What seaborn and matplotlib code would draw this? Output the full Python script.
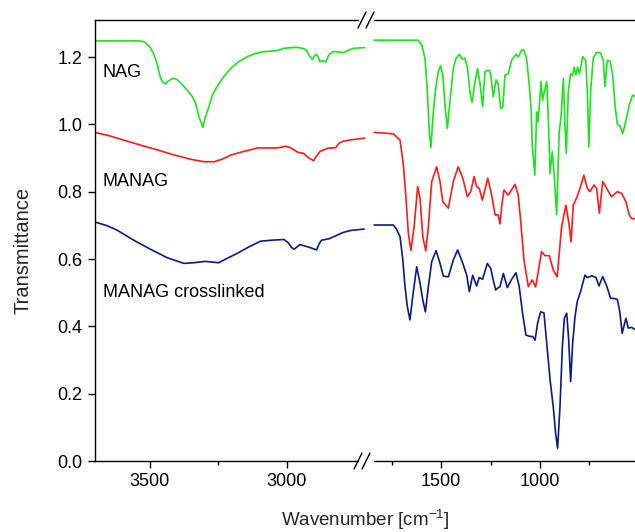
import matplotlib
matplotlib.use("Agg")
import matplotlib.pyplot as plt
from matplotlib.ticker import FixedLocator, FormatStrFormatter
import pandas as pd
import seaborn as sns

sns.set_style("ticks")
plt.rcParams['font.family'] = ['Liberation Sans', 'DejaVu Sans']
plt.rcParams['mathtext.fontset'] = 'custom'
plt.rcParams['mathtext.rm'] = 'Liberation Sans'

# ---------------- data ----------------
# high-wavenumber region (left panel)
hi_wn_nag = [3700, 3536, 3518, 3500, 3487, 3474, 3464, 3455, 3443, 3431, 3415, 3400,
             3382, 3364, 3345, 3333, 3321, 3307, 3299, 3285, 3272, 3255, 3231, 3206,
             3176, 3145, 3115, 3085, 3036, 3012, 2964, 2939, 2929, 2918, 2908, 2900,
             2892, 2885, 2880, 2869, 2859, 2847, 2833, 2817, 2795, 2768, 2756, 2717]
hi_t_nag = [1.248, 1.248, 1.244, 1.23, 1.211, 1.181, 1.146, 1.127, 1.12, 1.13, 1.137, 1.133,
            1.118, 1.102, 1.082, 1.062, 1.023, 0.991, 1.018, 1.052, 1.087, 1.112, 1.141, 1.166,
            1.186, 1.201, 1.211, 1.216, 1.219, 1.226, 1.229, 1.225, 1.22, 1.203, 1.193, 1.203,
            1.208, 1.198, 1.186, 1.19, 1.185, 1.207, 1.216, 1.216, 1.213, 1.223, 1.226, 1.228]

hi_wn_manag = [3700, 3656, 3594, 3533, 3472, 3411, 3350, 3302, 3265, 3235, 3204, 3156,
               3107, 3071, 3034, 3004, 2989, 2974, 2960, 2940, 2920, 2903, 2894, 2880,
               2852, 2822, 2810, 2795, 2767, 2716]
hi_t_manag = [0.976, 0.968, 0.953, 0.938, 0.924, 0.909, 0.896, 0.889, 0.889, 0.897, 0.909, 0.92,
              0.93, 0.93, 0.93, 0.935, 0.931, 0.924, 0.917, 0.914, 0.90, 0.892, 0.904, 0.919,
              0.929, 0.931, 0.944, 0.95, 0.954, 0.959]

hi_wn_cl = [3700, 3656, 3620, 3559, 3498, 3437, 3376, 3340, 3298, 3249, 3218, 3181,
            3139, 3096, 3054, 3011, 2995, 2983, 2974, 2962, 2953, 2916, 2892, 2883,
            2874, 2847, 2825, 2795, 2767, 2719]
hi_t_cl = [0.710, 0.699, 0.686, 0.656, 0.629, 0.604, 0.587, 0.589, 0.593, 0.589, 0.602, 0.617,
           0.636, 0.653, 0.656, 0.658, 0.648, 0.634, 0.629, 0.637, 0.643, 0.634, 0.627, 0.645,
           0.656, 0.66, 0.668, 0.679, 0.685, 0.689]

# fingerprint region (right panel)
lo_wn_nag = [1838, 1615, 1597, 1581, 1569, 1559, 1551, 1539, 1527, 1514, 1502, 1491,
             1480, 1468, 1455, 1438, 1424, 1407, 1394, 1380, 1367, 1354, 1343, 1328,
             1315, 1303, 1290, 1278, 1266, 1256, 1249, 1236, 1222, 1211, 1199, 1188,
             1177, 1160, 1143, 1121, 1110, 1093, 1081, 1068, 1054, 1045, 1039, 1026,
             1017, 1010, 1004, 995, 987, 977, 966, 958, 949, 938, 928, 916,
             903, 894, 882, 874, 867, 857, 845, 835, 828, 818, 810, 801,
             784, 769, 761, 753, 744, 731, 714, 694, 680, 672, 660, 646,
             633, 621, 609, 596, 582, 566, 549, 532, 520]
lo_t_nag = [1.250, 1.250, 1.236, 1.196, 1.097, 0.978, 0.931, 1.037, 1.107, 1.156, 1.174, 1.146,
            1.057, 0.988, 1.067, 1.166, 1.196, 1.208, 1.194, 1.197, 1.171, 1.097, 1.065, 1.127,
            1.166, 1.122, 1.052, 1.156, 1.16, 1.16, 1.15, 1.082, 1.132, 1.12, 1.047, 1.05,
            1.146, 1.15, 1.191, 1.208, 1.2, 1.221, 1.22, 1.196, 1.117, 1.047, 0.938, 0.849,
            1.037, 1.008, 1.05, 1.127, 1.072, 1.1, 1.127, 1.018, 0.854, 0.919, 0.849, 0.731,
            0.978, 1.02, 1.137, 0.998, 0.914, 1.097, 1.15, 1.145, 1.17, 1.147, 1.17, 1.15,
            1.201, 1.19, 1.1, 0.933, 1.1, 1.196, 1.214, 1.212, 1.19, 1.112, 1.19, 1.187,
            1.15, 1.057, 1.0, 0.995, 0.973, 1.01, 1.057, 1.087, 1.083]

lo_wn_manag = [1838, 1741, 1707, 1690, 1677, 1665, 1652, 1636, 1618, 1606, 1592, 1577,
               1564, 1547, 1522, 1505, 1491, 1463, 1438, 1413, 1390, 1367, 1350, 1333,
               1320, 1307, 1291, 1264, 1244, 1227, 1211, 1202, 1193, 1182, 1160, 1126,
               1110, 1098, 1081, 1059, 1039, 1022, 992, 975, 953, 933, 913, 891,
               869, 854, 843, 832, 812, 798, 778, 761, 747, 727, 714, 700,
               683, 663, 639, 609, 587, 566, 549, 537, 520]
lo_t_manag = [0.976, 0.972, 0.953, 0.879, 0.780, 0.676, 0.625, 0.696, 0.815, 0.78, 0.666, 0.624,
              0.696, 0.830, 0.874, 0.83, 0.770, 0.751, 0.83, 0.874, 0.840, 0.785, 0.80, 0.845,
              0.815, 0.81, 0.775, 0.84, 0.79, 0.731, 0.731, 0.704, 0.76, 0.805, 0.79, 0.822,
              0.79, 0.716, 0.597, 0.518, 0.538, 0.517, 0.622, 0.61, 0.61, 0.567, 0.547, 0.696,
              0.76, 0.706, 0.651, 0.76, 0.785, 0.81, 0.849, 0.81, 0.80, 0.82, 0.81, 0.736,
              0.83, 0.81, 0.785, 0.80, 0.795, 0.77, 0.731, 0.72, 0.72]

lo_wn_cl = [1838, 1741, 1724, 1707, 1693, 1682, 1670, 1657, 1643, 1623, 1606, 1592,
            1579, 1564, 1547, 1525, 1505, 1488, 1463, 1438, 1416, 1390, 1370, 1357,
            1340, 1320, 1307, 1290, 1266, 1249, 1236, 1224, 1211, 1202, 1185, 1165,
            1143, 1121, 1105, 1088, 1071, 1051, 1037, 1025, 1012, 997, 980, 966,
            949, 933, 921, 911, 899, 887, 877, 865, 855, 845, 835, 823,
            812, 795, 773, 761, 739, 717, 702, 683, 663, 643, 626, 609,
            596, 585, 566, 554, 537, 520]
lo_t_cl = [0.701, 0.701, 0.688, 0.666, 0.597, 0.518, 0.458, 0.419, 0.488, 0.577, 0.528, 0.478,
           0.443, 0.518, 0.592, 0.625, 0.587, 0.549, 0.547, 0.597, 0.627, 0.587, 0.552, 0.503,
           0.552, 0.52, 0.545, 0.54, 0.587, 0.572, 0.537, 0.508, 0.515, 0.518, 0.557, 0.515,
           0.54, 0.559, 0.518, 0.439, 0.374, 0.37, 0.37, 0.359, 0.409, 0.443, 0.44, 0.35,
           0.241, 0.161, 0.082, 0.038, 0.161, 0.339, 0.424, 0.439, 0.359, 0.236, 0.35, 0.429,
           0.473, 0.503, 0.552, 0.545, 0.55, 0.545, 0.52, 0.548, 0.52, 0.483, 0.483, 0.48,
           0.44, 0.379, 0.424, 0.395, 0.397, 0.39]

series_names = ["NAG", "MANAG", "MANAG crosslinked"]
series_colors = ["#19e619", "#ff1a1a", "#0a1a8c"]

hi = [(hi_wn_nag, hi_t_nag), (hi_wn_manag, hi_t_manag), (hi_wn_cl, hi_t_cl)]
lo = [(lo_wn_nag, lo_t_nag), (lo_wn_manag, lo_t_manag), (lo_wn_cl, lo_t_cl)]

y_ticks = [0.0, 0.2, 0.4, 0.6, 0.8, 1.0, 1.2]

# ---------------- figure ----------------
W, H = 635, 532
fig = plt.figure(figsize=(W / 100, H / 100), dpi=100)
L, B, T = 95 / W, 1 - 461 / H, 1 - 20 / H
BRK = 366 / W
axL = fig.add_axes([L, B, BRK - L, T - B])
axR = fig.add_axes([BRK, B, 1.0 - BRK, T - B], sharey=axL)

for (wn, t), c in zip(hi, series_colors):
    df = pd.DataFrame({"wn": wn, "T": t})
    sns.lineplot(data=df, x="wn", y="T", ax=axL, color=c, lw=1.2, sort=False,
                 estimator=None)
for (wn, t), c in zip(lo, series_colors):
    df = pd.DataFrame({"wn": wn, "T": t})
    sns.lineplot(data=df, x="wn", y="T", ax=axR, color=c, lw=1.2, sort=False,
                 estimator=None)

axL.set_xlim(3700, 2712)
axR.set_xlim(1879, 520)
axL.set_ylim(0, 1.31)

for ax in (axL, axR):
    ax.set_xlabel("")
    ax.set_ylabel("")
    for s in ax.spines.values():
        s.set_color("black")
        s.set_linewidth(1.0)
    ax.tick_params(axis="both", which="both", direction="out", colors="black",
                   labelsize=13, width=1.0, pad=4)
    ax.tick_params(which="major", length=5)
    ax.tick_params(which="minor", length=3)

axL.spines["right"].set_visible(False)
axR.spines["left"].set_visible(False)
axR.spines["right"].set_visible(False)
axR.tick_params(axis="y", which="both", left=False, labelleft=False)

axL.xaxis.set_major_locator(FixedLocator([3500, 3000]))
axL.xaxis.set_minor_locator(FixedLocator([3250]))
axR.xaxis.set_major_locator(FixedLocator([1500, 1000]))
axR.xaxis.set_minor_locator(FixedLocator([1750, 1250, 750]))
axL.yaxis.set_major_locator(FixedLocator(y_ticks))
axL.yaxis.set_major_formatter(FormatStrFormatter("%.1f"))

# series labels (baseline positions)
label_y = [1.141, 0.817, 0.488]
for name, yv in zip(series_names, label_y):
    axL.text(3672, yv, name, fontsize=13, color="black", ha="left", va="baseline")

# axis titles
fig.text((95 + 635) / 2 / W, 1 - 520 / H, "Wavenumber [cm$^{\\mathregular{-1}}$]",
         ha="center", va="center", fontsize=13.5)
fig.text(23 / W, 1 - 250 / H, "Transmittance", ha="center", va="center",
         rotation=90, fontsize=14.5)

# break marks
def slash(xc, yc):
    for dx in (-4, 4):
        fig.add_artist(plt.Line2D([(xc + dx - 4) / W, (xc + dx + 4) / W],
                                  [1 - (yc + 8) / H, 1 - (yc - 8) / H],
                                  color="black", lw=1.0))

for yc in (20, 461):
    fig.add_artist(plt.Line2D([360 / W, 372 / W], [1 - yc / H, 1 - yc / H],
                              color="white", lw=2.5))
slash(366, 20)
slash(362, 461)

fig.savefig("out.png", dpi=100)
